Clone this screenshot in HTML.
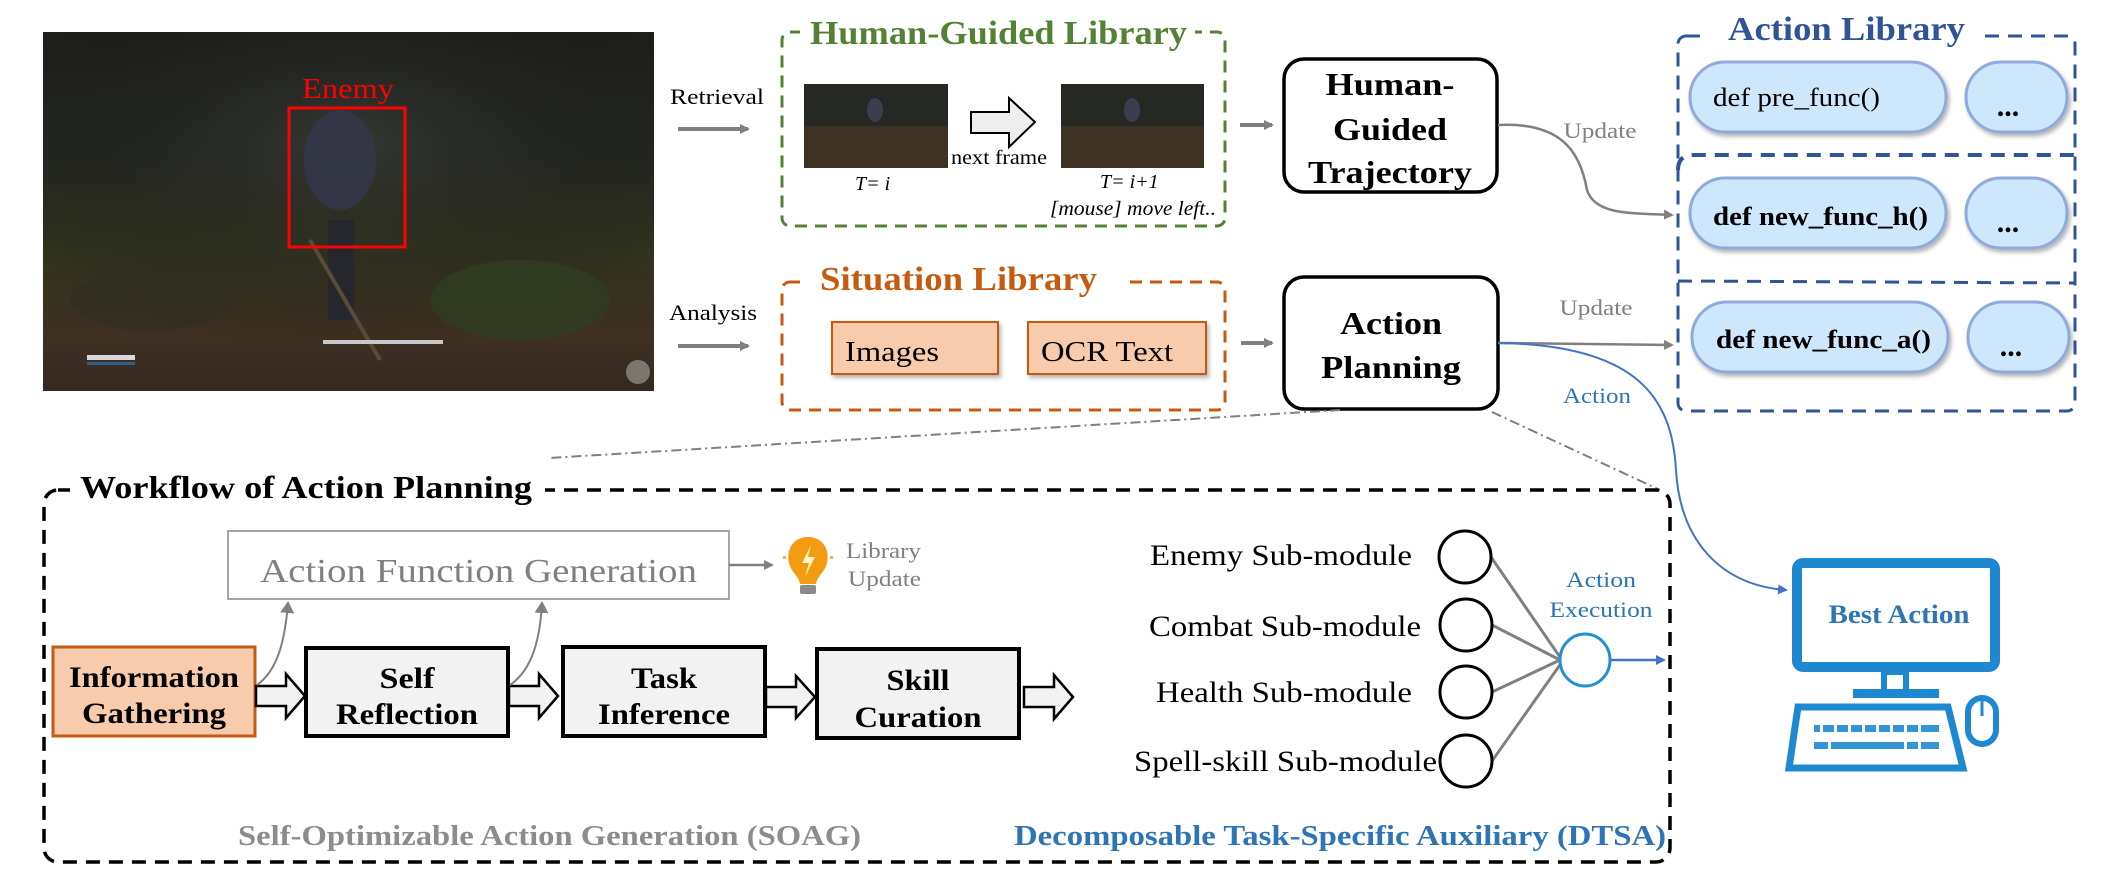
<!DOCTYPE html>
<html><head><meta charset="utf-8"><style>
html,body{margin:0;padding:0;background:#fff;}
svg{display:block;font-family:"Liberation Serif",serif;}
</style></head><body>
<svg width="2101" height="879" viewBox="0 0 2101 879" xmlns="http://www.w3.org/2000/svg">
<defs>
<linearGradient id="game" x1="0" y1="0" x2="0" y2="1">
<stop offset="0" stop-color="#1e1f1d"/><stop offset="0.35" stop-color="#252822"/><stop offset="0.6" stop-color="#30321f"/><stop offset="0.85" stop-color="#3e3022"/><stop offset="1" stop-color="#352a20"/></linearGradient>
<radialGradient id="glow" cx="0.5" cy="0.3" r="0.6"><stop offset="0" stop-color="#4a4c48" stop-opacity="0.45"/><stop offset="1" stop-color="#000" stop-opacity="0"/></radialGradient>
<filter id="sh" x="-10%" y="-10%" width="130%" height="140%"><feDropShadow dx="2" dy="3" stdDeviation="2" flood-color="#000" flood-opacity="0.3"/></filter>
<marker id="ag" markerWidth="10" markerHeight="10" refX="8" refY="5" orient="auto" markerUnits="userSpaceOnUse"><path d="M0,0 L10,5 L0,10 Z" fill="#808080"/></marker>
<marker id="ab" markerWidth="10" markerHeight="10" refX="8" refY="5" orient="auto" markerUnits="userSpaceOnUse"><path d="M0,0 L10,5 L0,10 Z" fill="#4472c4"/></marker>
<marker id="ag2" markerWidth="12" markerHeight="14" refX="10" refY="7" orient="auto" markerUnits="userSpaceOnUse"><path d="M0,0 L12,7 L0,14 Z" fill="#808080"/></marker>
</defs>

<!-- Game screenshot -->
<rect x="43" y="32" width="611" height="359" fill="url(#game)"/>
<rect x="43" y="32" width="611" height="359" fill="url(#glow)"/>
<ellipse cx="520" cy="300" rx="90" ry="40" fill="#2f3d22" opacity="0.8"/>
<ellipse cx="150" cy="300" rx="80" ry="30" fill="#2e2e22" opacity="0.6"/>
<ellipse cx="340" cy="160" rx="36" ry="50" fill="#343648" opacity="0.9"/>
<rect x="328" y="220" width="26" height="100" fill="#25272d"/>
<line x1="310" y1="240" x2="380" y2="360" stroke="#5a4a38" stroke-width="4"/>
<rect x="323" y="340" width="120" height="4" fill="#c8c8c8"/>
<rect x="87" y="355" width="48" height="5" fill="#d8d8d8"/>
<rect x="87" y="362" width="48" height="3" fill="#3a5a8a"/>
<circle cx="638" cy="372" r="12" fill="#bfbfbf" opacity="0.5"/>
<rect x="289" y="108" width="116" height="139" fill="none" stroke="#ff0000" stroke-width="3"/>
<text x="348" y="98" text-anchor="middle" font-size="28" fill="#ff0000" textLength="92" lengthAdjust="spacingAndGlyphs">Enemy</text>

<!-- Retrieval / Analysis -->
<text x="670" y="104" font-size="22" textLength="94" lengthAdjust="spacingAndGlyphs">Retrieval</text>
<line x1="678" y1="129" x2="748" y2="129" stroke="#808080" stroke-width="4" marker-end="url(#ag)"/>
<text x="669" y="320" font-size="22" textLength="88" lengthAdjust="spacingAndGlyphs">Analysis</text>
<line x1="678" y1="346" x2="748" y2="346" stroke="#808080" stroke-width="4" marker-end="url(#ag)"/>

<!-- Green box -->
<rect x="782" y="32" width="443" height="194" rx="8" fill="none" stroke="#548235" stroke-width="3" stroke-dasharray="12,8"/>
<rect x="800" y="10" width="395" height="40" fill="#fff"/>
<text x="810" y="44" font-size="34" font-weight="bold" fill="#548235" textLength="377" lengthAdjust="spacingAndGlyphs">Human-Guided Library</text>
<rect x="804" y="84" width="144" height="84" fill="#262823"/>
<rect x="804" y="126" width="144" height="42" fill="#3e3224"/>
<ellipse cx="875" cy="110" rx="8" ry="12" fill="#3c3e50"/>
<rect x="1061" y="84" width="143" height="84" fill="#262823"/>
<rect x="1061" y="126" width="143" height="42" fill="#3e3224"/>
<ellipse cx="1132" cy="110" rx="8" ry="12" fill="#3c3e50"/>
<path d="M971,112 L1009,112 L1009,98 L1035,122 L1009,147 L1009,133 L971,133 Z" fill="#eeeeee" stroke="#000" stroke-width="2"/>
<text x="951" y="164" font-size="20" textLength="96" lengthAdjust="spacingAndGlyphs">next frame</text>
<text x="855" y="190" font-size="20" font-style="italic">T= i</text>
<text x="1100" y="188" font-size="20" font-style="italic">T= i+1</text>
<text x="1050" y="215" font-size="20" font-style="italic" textLength="166" lengthAdjust="spacingAndGlyphs">[mouse] move left..</text>
<line x1="1240" y1="125" x2="1272" y2="125" stroke="#808080" stroke-width="4" marker-end="url(#ag)"/>

<!-- HGT box -->
<rect x="1284" y="59" width="213" height="133" rx="20" fill="#fff" stroke="#000" stroke-width="3.5"/>
<g font-size="32" font-weight="bold" text-anchor="middle">
<text x="1390" y="95" textLength="129" lengthAdjust="spacingAndGlyphs">Human-</text>
<text x="1390" y="140" textLength="114" lengthAdjust="spacingAndGlyphs">Guided</text>
<text x="1390" y="183" textLength="164" lengthAdjust="spacingAndGlyphs">Trajectory</text>
</g>

<!-- Orange box -->
<rect x="782" y="282" width="443" height="128" rx="8" fill="none" stroke="#c55a11" stroke-width="3" stroke-dasharray="12,8"/>
<rect x="800" y="262" width="325" height="36" fill="#fff"/>
<text x="820" y="290" font-size="34" font-weight="bold" fill="#c55a11" textLength="277" lengthAdjust="spacingAndGlyphs">Situation Library</text>
<rect x="832" y="322" width="166" height="52" fill="#f8cbad" stroke="#c55a11" stroke-width="2" filter="url(#sh)"/>
<rect x="1028" y="322" width="178" height="52" fill="#f8cbad" stroke="#c55a11" stroke-width="2" filter="url(#sh)"/>
<text x="845" y="361" font-size="28" textLength="94" lengthAdjust="spacingAndGlyphs">Images</text>
<text x="1041" y="361" font-size="28" textLength="132" lengthAdjust="spacingAndGlyphs">OCR Text</text>
<line x1="1241" y1="343" x2="1272" y2="343" stroke="#808080" stroke-width="4" marker-end="url(#ag)"/>

<!-- Action Planning box -->
<rect x="1284" y="277" width="214" height="132" rx="20" fill="#fff" stroke="#000" stroke-width="3.5"/>
<g font-size="32" font-weight="bold" text-anchor="middle">
<text x="1391" y="334" textLength="102" lengthAdjust="spacingAndGlyphs">Action</text>
<text x="1391" y="378" textLength="140" lengthAdjust="spacingAndGlyphs">Planning</text>
</g>

<!-- Update connectors -->
<path d="M1498,125 C1560,122 1580,150 1587,190 C1595,215 1630,213 1672,215" fill="none" stroke="#808080" stroke-width="2.5" marker-end="url(#ag)"/>
<text x="1600" y="138" font-size="22" fill="#808080" text-anchor="middle" textLength="73" lengthAdjust="spacingAndGlyphs">Update</text>
<line x1="1498" y1="343" x2="1672" y2="345" stroke="#808080" stroke-width="2.5" marker-end="url(#ag)"/>
<text x="1596" y="315" font-size="22" fill="#808080" text-anchor="middle" textLength="73" lengthAdjust="spacingAndGlyphs">Update</text>
<path d="M1498,343 C1640,345 1672,400 1676,470 C1680,540 1720,585 1786,590" fill="none" stroke="#4472c4" stroke-width="2" marker-end="url(#ab)"/>
<text x="1597" y="403" font-size="22" fill="#2e75b6" text-anchor="middle" textLength="68" lengthAdjust="spacingAndGlyphs">Action</text>

<!-- Action Library -->
<rect x="1678" y="36" width="397" height="375" rx="8" fill="none" stroke="#2f5597" stroke-width="3" stroke-dasharray="14,9"/>
<rect x="1700" y="10" width="285" height="40" fill="#fff"/>
<text x="1728" y="40" font-size="34" font-weight="bold" fill="#2f5597" textLength="237" lengthAdjust="spacingAndGlyphs">Action Library</text>
<path d="M1678,170 Q1678,155 1693,155 L2075,155" fill="none" stroke="#2f5597" stroke-width="4" stroke-dasharray="14,9"/>
<line x1="1678" y1="281" x2="2075" y2="283" stroke="#2f5597" stroke-width="3" stroke-dasharray="14,9"/>
<g fill="#cde8fd" stroke="#8faadc" stroke-width="3" filter="url(#sh)">
<rect x="1690" y="62" width="256" height="70" rx="35"/>
<rect x="1966" y="62" width="101" height="70" rx="35"/>
<rect x="1690" y="178" width="256" height="70" rx="35"/>
<rect x="1966" y="178" width="101" height="70" rx="35"/>
<rect x="1692" y="302" width="256" height="70" rx="35"/>
<rect x="1968" y="302" width="101" height="70" rx="35"/>
</g>
<text x="1713" y="106" font-size="26" textLength="167" lengthAdjust="spacingAndGlyphs">def pre_func()</text>
<text x="1713" y="225" font-size="26" font-weight="bold" textLength="215" lengthAdjust="spacingAndGlyphs">def new_func_h()</text>
<text x="1716" y="348" font-size="26" font-weight="bold" textLength="215" lengthAdjust="spacingAndGlyphs">def new_func_a()</text>
<g font-size="30" font-weight="bold" text-anchor="middle">
<text x="2008" y="116">...</text><text x="2008" y="232">...</text><text x="2011" y="356">...</text>
</g>

<!-- dash-dot connectors -->
<line x1="1340" y1="410" x2="549" y2="458" stroke="#808080" stroke-width="2" stroke-dasharray="10,4,2,4"/>
<line x1="1492" y1="412" x2="1660" y2="490" stroke="#808080" stroke-width="2" stroke-dasharray="10,4,2,4"/>

<!-- Workflow box -->
<rect x="44" y="490" width="1626" height="372" rx="14" fill="none" stroke="#000" stroke-width="3.5" stroke-dasharray="14,9"/>
<rect x="70" y="472" width="475" height="36" fill="#fff"/>
<text x="80" y="498" font-size="32" font-weight="bold" textLength="452" lengthAdjust="spacingAndGlyphs">Workflow of Action Planning</text>

<!-- AFG -->
<rect x="228" y="531" width="501" height="68" fill="#fff" stroke="#a6a6a6" stroke-width="2"/>
<text x="260" y="582" font-size="34" fill="#808080" textLength="437" lengthAdjust="spacingAndGlyphs">Action Function Generation</text>
<line x1="729" y1="565" x2="772" y2="565" stroke="#808080" stroke-width="2.5" marker-end="url(#ag)"/>
<path d="M808,537 C793,537 786,550 789,563 C791,572 799,576 800,584 L816,584 C817,576 825,572 827,563 C830,550 823,537 808,537 Z" fill="#f39c12"/>
<path d="M811,545 L802,563 L809,563 L805,577 L815,557 L808,557 Z" fill="#fff3c0"/>
<rect x="800" y="585" width="16" height="9" rx="2" fill="#8a8a8a"/>
<g fill="#f5b041"><rect x="783" y="556" width="3" height="3"/><rect x="830" y="556" width="3" height="3"/></g>
<text x="846" y="558" font-size="22" fill="#808080" textLength="75" lengthAdjust="spacingAndGlyphs">Library</text>
<text x="848" y="586" font-size="22" fill="#808080" textLength="73" lengthAdjust="spacingAndGlyphs">Update</text>

<!-- Process boxes -->
<rect x="53" y="647" width="202" height="89" fill="#f8cbad" stroke="#c55a11" stroke-width="3"/>
<g fill="#f2f2f2" stroke="#000" stroke-width="4">
<rect x="306" y="648" width="202" height="88"/>
<rect x="563" y="647" width="202" height="89"/>
<rect x="817" y="649" width="202" height="89"/>
</g>
<g font-size="30" font-weight="bold" text-anchor="middle">
<text x="154" y="687" textLength="170" lengthAdjust="spacingAndGlyphs">Information</text>
<text x="154" y="723" textLength="144" lengthAdjust="spacingAndGlyphs">Gathering</text>
<text x="407" y="688" textLength="55" lengthAdjust="spacingAndGlyphs">Self</text>
<text x="407" y="724" textLength="142" lengthAdjust="spacingAndGlyphs">Reflection</text>
<text x="664" y="688" textLength="66" lengthAdjust="spacingAndGlyphs">Task</text>
<text x="664" y="724" textLength="132" lengthAdjust="spacingAndGlyphs">Inference</text>
<text x="918" y="690" textLength="63" lengthAdjust="spacingAndGlyphs">Skill</text>
<text x="918" y="727" textLength="127" lengthAdjust="spacingAndGlyphs">Curation</text>
</g>
<g fill="#f2f2f2" stroke="#000" stroke-width="2.5">
<path d="M256,686 L286,686 L286,674 L305,696 L286,718 L286,706 L256,706 Z"/>
<path d="M509,686 L539,686 L539,674 L558,696 L539,718 L539,706 L509,706 Z"/>
<path d="M766,687 L796,687 L796,676 L815,697 L796,718 L796,707 L766,707 Z"/>
<path d="M1024,687 L1054,687 L1054,675 L1073,697 L1054,719 L1054,707 L1024,707 Z"/>
</g>
<path d="M257,685 C278,670 285,640 288,603" fill="none" stroke="#808080" stroke-width="2" marker-end="url(#ag2)"/>
<path d="M510,685 C532,670 540,640 542,603" fill="none" stroke="#808080" stroke-width="2" marker-end="url(#ag2)"/>

<!-- DTSA -->
<g font-size="30" text-anchor="end">
<text x="1412" y="565" textLength="262" lengthAdjust="spacingAndGlyphs">Enemy Sub-module</text>
<text x="1421" y="636" textLength="272" lengthAdjust="spacingAndGlyphs">Combat Sub-module</text>
<text x="1412" y="702" textLength="256" lengthAdjust="spacingAndGlyphs">Health Sub-module</text>
<text x="1437" y="771" textLength="303" lengthAdjust="spacingAndGlyphs">Spell-skill Sub-module</text>
</g>
<g stroke="#808080" stroke-width="3">
<line x1="1491" y1="557" x2="1562" y2="660"/>
<line x1="1492" y1="625" x2="1560" y2="660"/>
<line x1="1492" y1="692" x2="1560" y2="660"/>
<line x1="1492" y1="761" x2="1562" y2="662"/>
</g>
<g fill="#fff" stroke="#000" stroke-width="3">
<ellipse cx="1465" cy="557" rx="26" ry="26"/>
<ellipse cx="1466" cy="625" rx="26" ry="26"/>
<ellipse cx="1466" cy="692" rx="26" ry="26"/>
<ellipse cx="1466" cy="761" rx="26" ry="26"/>
</g>
<ellipse cx="1585" cy="660" rx="25" ry="26" fill="#fff" stroke="#1e90d6" stroke-width="3"/>
<line x1="1611" y1="660" x2="1664" y2="660" stroke="#4472c4" stroke-width="2.5" marker-end="url(#ab)"/>
<text x="1601" y="587" font-size="22" fill="#2e75b6" text-anchor="middle" textLength="70" lengthAdjust="spacingAndGlyphs">Action</text>
<text x="1601" y="617" font-size="22" fill="#2e75b6" text-anchor="middle" textLength="103" lengthAdjust="spacingAndGlyphs">Execution</text>

<text x="238" y="845" font-size="28" font-weight="bold" fill="#8c8c8c" textLength="623" lengthAdjust="spacingAndGlyphs">Self-Optimizable Action Generation (SOAG)</text>
<text x="1014" y="845" font-size="28" font-weight="bold" fill="#2e75b6" textLength="652" lengthAdjust="spacingAndGlyphs">Decomposable Task-Specific Auxiliary (DTSA)</text>

<!-- Computer -->
<rect x="1797" y="563" width="198" height="104" rx="6" fill="#fff" stroke="#1e88d0" stroke-width="10"/>
<rect x="1884" y="672" width="22" height="20" fill="#fff" stroke="#1e88d0" stroke-width="6"/>
<rect x="1853" y="689" width="86" height="9" fill="#1e88d0"/>
<path d="M1798,707 L1948,707 L1963,768 L1789,768 Z" fill="#fff" stroke="#1e88d0" stroke-width="7"/>
<g fill="#1e88d0">
<rect x="1814" y="725" width="125" height="7" opacity="0.9"/>
<rect x="1814" y="742" width="125" height="7" opacity="0.9"/>
</g>
<g fill="#fff"><rect x="1820" y="724" width="3" height="9"/><rect x="1834" y="724" width="3" height="9"/><rect x="1848" y="724" width="3" height="9"/><rect x="1862" y="724" width="3" height="9"/><rect x="1876" y="724" width="3" height="9"/><rect x="1890" y="724" width="3" height="9"/><rect x="1904" y="724" width="3" height="9"/><rect x="1918" y="724" width="3" height="9"/><rect x="1828" y="741" width="3" height="9"/><rect x="1904" y="741" width="3" height="9"/><rect x="1918" y="741" width="3" height="9"/></g>
<rect x="1968" y="698" width="28" height="46" rx="14" fill="#fff" stroke="#1e88d0" stroke-width="6"/>
<line x1="1982" y1="700" x2="1982" y2="716" stroke="#1e88d0" stroke-width="3"/>
<text x="1899" y="623" font-size="26" font-weight="bold" fill="#2e75b6" text-anchor="middle" textLength="141" lengthAdjust="spacingAndGlyphs">Best Action</text>
</svg>
</body></html>
